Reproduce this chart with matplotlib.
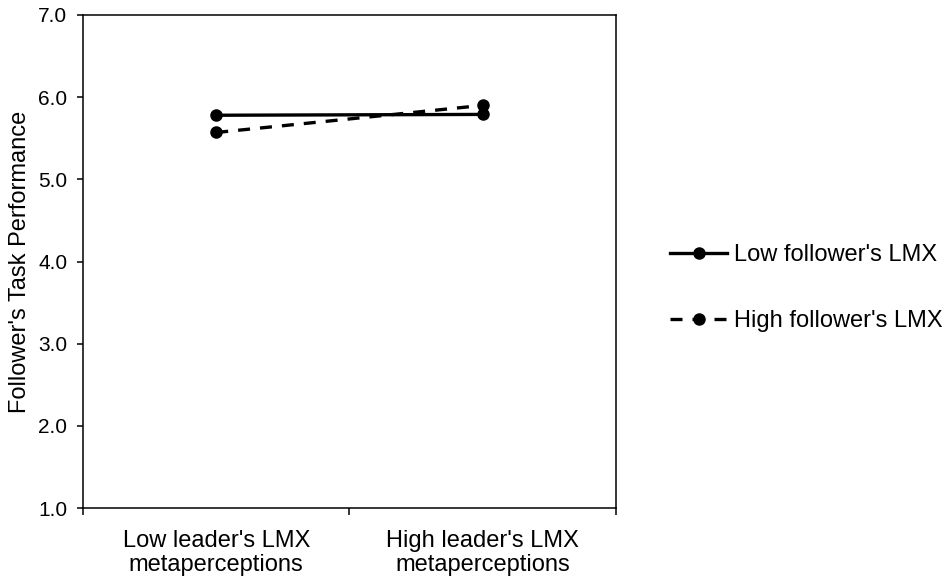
import matplotlib.pyplot as plt

plt.rcParams['font.family'] = ['Liberation Sans', 'DejaVu Sans']

categories = ["Low leader's LMX\nmetaperceptions", "High leader's LMX\nmetaperceptions"]
low_lmx = [5.78, 5.79]
high_lmx = [5.57, 5.90]
y_ticks = [1, 2, 3, 4, 5, 6, 7]

fig = plt.figure(figsize=(9.45, 5.79), dpi=100)
ax = fig.add_axes([0.0878, 0.1226, 0.564, 0.8515])

x = [0.5, 1.5]
ax.plot(x, low_lmx, color='black', lw=2.4, marker='o', markersize=8,
        label="Low follower's LMX")
ax.plot(x, high_lmx, color='black', lw=2.4, marker='o', markersize=8,
        linestyle=(0, (3.6, 3.0)), label="High follower's LMX")

ax.set_xlim(0, 2)
ax.set_ylim(1, 7)
ax.set_yticks(y_ticks)
ax.set_yticklabels([f'{v:.1f}' for v in y_ticks])
ax.set_xticks([0, 1, 2])
ax.set_xticklabels([])
ax.set_xticks(x, minor=True)
ax.set_xticklabels(categories, minor=True, fontsize=17, linespacing=1.12)
ax.tick_params(axis='x', which='minor', length=0, pad=16)
ax.tick_params(axis='x', which='major', length=5, width=1.1, direction='out')
ax.tick_params(axis='y', length=4.3, width=1.1, labelsize=15, pad=7)
for s in ax.spines.values():
    s.set_linewidth(1.1)

ax.set_ylabel("Follower's Task Performance", fontsize=17, labelpad=5)

fig.legend(loc='center left', bbox_to_anchor=(0.709, 0.5025), frameon=False,
           fontsize=17, handlelength=2.42, handletextpad=0.3, labelspacing=1.86,
           borderaxespad=0, borderpad=0)

fig.savefig('out.png', dpi=100)
